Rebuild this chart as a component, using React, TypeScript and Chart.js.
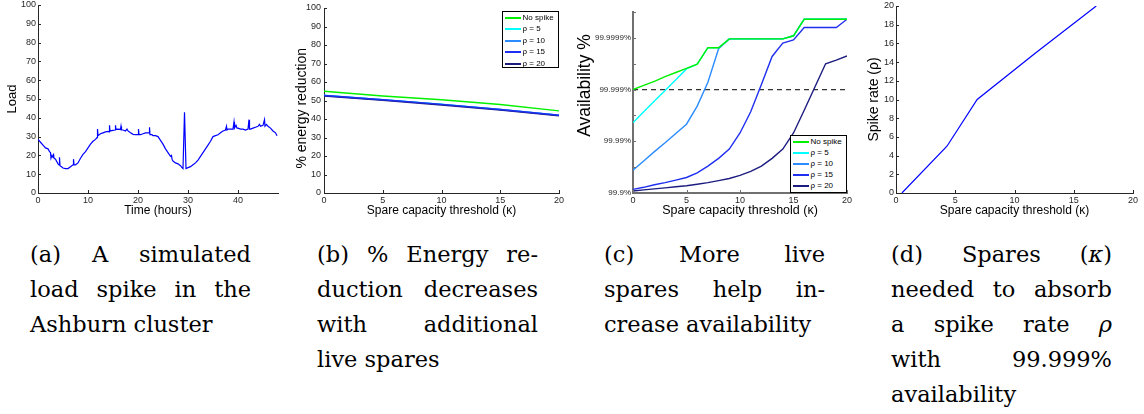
import React, { useEffect, useRef } from 'react';
import { Chart, registerables } from 'chart.js';
Chart.register(...registerables);

const SANS = '"Liberation Sans", Arial, Helvetica, sans-serif';
const SERIF = '"DejaVu Serif", serif';

// ---------- (a) simulated load spike ----------
const loadHours = [
  0, 0.5, 1, 1.5, 2, 2.3, 2.5, 2.6, 2.8, 3.0, 3.1, 3.2, 3.5, 4.0, 4.2, 4.3, 4.4, 4.7, 5, 5.5, 6, 6.5, 7, 7.1, 7.2, 7.5,
  8, 8.5, 9, 9.5, 10, 10.5, 11, 11.5, 11.8, 11.9, 12.0, 12.5, 13, 13.5, 14, 14.2, 14.3, 14.4, 15, 15.4, 15.5, 15.6,
  16, 16.5, 16.6, 16.7, 17, 17.5, 17.8, 18, 18.5, 19, 19.5, 20, 20.1, 20.2, 20.5, 21, 21.5, 22, 22.2, 22.3, 22.4,
  22.8, 23, 23.5, 24, 24.5, 25, 25.5, 26, 26.5, 26.7, 26.8, 27, 27.5, 28, 28.5, 28.8, 29, 29.3, 29.6, 30, 30.5, 31,
  31.5, 32, 32.5, 33, 33.5, 34, 34.5, 35, 35.5, 36, 36.5, 37, 37.5, 37.7, 37.8, 38, 38.5, 39, 39.2, 39.3, 39.6, 39.8,
  40, 40.5, 41, 41.5, 42, 42.2, 42.3, 42.5, 43, 43.5, 44, 44.3, 44.5, 45, 45.3, 45.4, 45.7, 46, 46.5, 47, 47.5, 47.8,
];
const loadValues = [
  28.5, 27, 25.5, 24, 23.5, 22, 21.5, 18.5, 20, 19, 21, 18.5, 18, 15.5, 15, 19, 14.5, 14, 13.3, 13, 13, 14, 15, 18, 15, 15,
  16, 18.5, 20.5, 22, 24, 26, 27.5, 28.5, 29.5, 34, 30.5, 31.5, 32, 32.5, 32.8, 32.5, 36, 33, 33.3, 33.5, 36, 33.8,
  34, 33.8, 35.5, 33.5, 33.5, 33, 34, 33, 32, 31.2, 31, 31, 34, 31, 31, 31.5, 32, 32, 32, 35, 31,
  31, 30.5, 30.5, 30, 28, 26, 23.5, 21.5, 19.5, 20, 18, 17, 16, 15.5, 14.5, 13.5, 13, 43, 13, 13.5, 14, 15,
  16, 17.5, 19.5, 21.5, 23.5, 25.5, 27.5, 30, 30.5, 31, 32, 33, 33.5, 35.5, 33.5, 34, 34, 34, 37.8, 34.5, 36, 34.5,
  34.5, 34, 34, 33.5, 34, 39, 34, 34, 34.5, 35, 35.5, 36.5, 35.5, 36, 39, 35.5, 36.5, 35.5, 34.5, 33, 32, 30.5,
];

// ---------- shared series ----------
const seriesLabels = ['No spike', 'ρ = 5', 'ρ = 10', 'ρ = 15', 'ρ = 20'];
const seriesColors = ['#00f000', '#00ffff', '#2b8cff', '#1f2fef', '#1c1c80'];

// ---------- (b) energy reduction ----------
const energyKappa = [0, 5, 10, 15, 20];
const energyNoSpike = [55.0, 52.4, 50.4, 47.8, 44.4];
const energyRho5 = [52.8, 50.5, 48.0, 45.2, 42.1];
const energyRho10 = [52.7, 50.4, 47.9, 45.1, 42.0];
const energyRho15 = [52.7, 50.4, 47.9, 45.1, 42.0];
const energyRho20 = [52.4, 50.1, 47.6, 44.8, 41.7];

// ---------- (c) availability (number of nines) ----------
const availKappa = [0, 1, 2, 3, 4, 5, 6, 7, 8, 9, 10, 11, 12, 13, 14, 15, 16, 17, 18, 19, 20];
const availNoSpike = [5.0, 5.08, 5.16, 5.25, 5.33, 5.41, 5.49, 5.81, 5.81, 5.98, 5.98, 5.98, 5.98, 5.98, 5.98, 6.04, 6.36, 6.36, 6.36, 6.36, 6.36];
const availRho5 = [4.36, 4.57, 4.78, 4.98, 5.19, 5.4, 5.49, 5.81, 5.81, 5.98, 5.98, 5.98, 5.98, 5.98, 5.98, 6.04, 6.36, 6.36, 6.36, 6.36, 6.36];
const availRho10 = [3.44, 3.62, 3.8, 3.97, 4.15, 4.33, 4.68, 5.14, 5.79, 5.98, 5.98, 5.98, 5.98, 5.98, 5.98, 6.04, 6.36, 6.36, 6.36, 6.36, 6.36];
const availRho15 = [3.07, 3.11, 3.16, 3.2, 3.25, 3.3, 3.39, 3.52, 3.67, 3.85, 4.16, 4.57, 5.1, 5.64, 5.9, 5.96, 6.2, 6.2, 6.2, 6.2, 6.36];
const availRho20 = [3.04, 3.06, 3.08, 3.1, 3.12, 3.14, 3.17, 3.2, 3.24, 3.28, 3.34, 3.42, 3.52, 3.67, 3.85, 4.16, 4.6, 5.05, 5.5, 5.57, 5.65];
const availTarget = 5; // 99.999%
const availTargetKappa = [0, 20];

// ---------- (d) spares needed ----------
const spikeKappa = [0.5, 4.3, 6.85, 11.8, 16.9];
const spikeRho = [0, 5, 10, 15, 20];

const pts = (xs: number[], ys: number[]) => xs.map((x, i) => ({ x, y: ys[i] }));

const inwardTicks = {
  id: 'inwardTicks',
  afterDatasetsDraw(chart: any, _args: any, opts: any) {
    const { ctx, chartArea } = chart;
    const len = opts.len ?? 3;
    ctx.save();
    ctx.strokeStyle = opts.color ?? '#262626';
    ctx.lineWidth = 1;
    ctx.beginPath();
    const xs = chart.scales.x;
    const ys = chart.scales.y;
    xs.ticks.forEach((t: any) => {
      const px = Math.round(xs.getPixelForValue(t.value)) + 0.5;
      ctx.moveTo(px, chartArea.bottom);
      ctx.lineTo(px, chartArea.bottom - len);
    });
    ys.ticks.forEach((t: any) => {
      const py = Math.round(ys.getPixelForValue(t.value)) + 0.5;
      ctx.moveTo(chartArea.left, py);
      ctx.lineTo(chartArea.left + len, py);
    });
    ctx.stroke();
    ctx.restore();
  },
};

type Spec = {
  plotL: number; plotR: number; plotT: number; plotB: number;
  yw: number; xh: number;
  yTitle: string; yTitleSize: number; yTitleCenter: number;
  xTitle: string; xTitleSize: number;
  xMin: number; xMax: number; xStep: number; xTickSize: number;
  yMin: number; yMax: number; yStep: number; yTickSize: number;
  yTickPad: number;
  yFormat?: (v: number) => string;
  axisColor: string; axisWidth: number;
  datasets: any[];
};

const PAD = { top: 15, right: 14, bottom: 10, left: 0 };

function frame(s: Spec) {
  const left = s.plotL - s.yw - PAD.left;
  const top = s.plotT - PAD.top;
  const width = s.plotR + PAD.right - left;
  const height = s.plotB + s.xh + PAD.bottom - top;
  return { left, top, width, height };
}

function PlotChart({ spec }: { spec: Spec }) {
  const ref = useRef<HTMLCanvasElement | null>(null);
  const f = frame(spec);
  useEffect(() => {
    if (!ref.current) return;
    const yLH = spec.yTitleSize * 1.2;
    const chart = new Chart(ref.current, {
      type: 'line',
      data: { datasets: spec.datasets },
      options: {
        animation: false,
        responsive: false,
        maintainAspectRatio: false,
        layout: { padding: PAD },
        plugins: {
          legend: { display: false },
          tooltip: { enabled: false },
          inwardTicks: { color: spec.axisColor, len: 3 },
        } as any,
        elements: { point: { radius: 0 }, line: { tension: 0 } },
        scales: {
          x: {
            type: 'linear',
            min: spec.xMin,
            max: spec.xMax,
            grid: { display: true, drawOnChartArea: false, drawTicks: false },
            border: { display: true, color: spec.axisColor, width: spec.axisWidth },
            ticks: {
              stepSize: spec.xStep,
              includeBounds: false,
              autoSkip: false,
              maxRotation: 0,
              padding: 2,
              color: '#262626',
              font: { family: SANS, size: spec.xTickSize },
            },
            title: {
              display: true,
              text: spec.xTitle,
              color: '#000',
              font: { family: SANS, size: spec.xTitleSize },
              padding: { top: 0, bottom: 0 },
            },
            afterFit: (scale: any) => { scale.height = spec.xh; },
          },
          y: {
            type: 'linear',
            min: spec.yMin,
            max: spec.yMax,
            grid: { display: true, drawOnChartArea: false, drawTicks: false },
            border: { display: true, color: spec.axisColor, width: spec.axisWidth },
            ticks: {
              stepSize: spec.yStep,
              autoSkip: false,
              padding: spec.yTickPad,
              color: '#262626',
              font: { family: SANS, size: spec.yTickSize },
              callback: (v: any) => (spec.yFormat ? spec.yFormat(Number(v)) : String(v)),
            },
            title: {
              display: true,
              text: spec.yTitle,
              color: '#000',
              font: { family: SANS, size: spec.yTitleSize },
              padding: { top: spec.yTitleCenter - f.left - yLH / 2, bottom: 0 },
            },
            afterFit: (scale: any) => { scale.width = spec.yw; },
          },
        },
      } as any,
      plugins: [inwardTicks as any],
    });
    return () => chart.destroy();
  }, []);
  return (
    <canvas
      ref={ref}
      width={f.width}
      height={f.height}
      style={{ position: 'absolute', left: f.left, top: f.top, width: f.width, height: f.height }}
    />
  );
}

const line = (label: string, data: any[], color: string, width = 1.3, extra: any = {}) => ({
  label, data, borderColor: color, backgroundColor: color, borderWidth: width, pointRadius: 0, fill: false, ...extra,
});

const specA: Spec = {
  plotL: 38, plotR: 278, plotT: 5, plotB: 193, yw: 38, xh: 25,
  yTitle: 'Load', yTitleSize: 13, yTitleCenter: 12.5,
  xTitle: 'Time (hours)', xTitleSize: 12,
  xMin: 0, xMax: 48, xStep: 10, xTickSize: 9,
  yMin: 0, yMax: 100, yStep: 10, yTickSize: 9, yTickPad: 2,
  axisColor: '#262626', axisWidth: 1,
  datasets: [line('Load', pts(loadHours, loadValues), '#0000ff', 1.2)],
};

const energySeries = [energyNoSpike, energyRho5, energyRho10, energyRho15, energyRho20];
const energyOrder = [0, 4, 3, 1, 2];
const specB: Spec = {
  plotL: 324, plotR: 559, plotT: 7.5, plotB: 193, yw: 40, xh: 25,
  yTitle: '% energy reduction    ', yTitleSize: 14, yTitleCenter: 302,
  xTitle: 'Spare capacity threshold (κ)', xTitleSize: 12,
  xMin: 0, xMax: 20, xStep: 5, xTickSize: 9,
  yMin: 0, yMax: 100, yStep: 10, yTickSize: 9, yTickPad: 3,
  axisColor: '#262626', axisWidth: 1,
  datasets: energySeries.map((s, i) => line(seriesLabels[i], pts(energyKappa, s), seriesColors[i], 1.4, { order: energyOrder[i] })),
};

const availSeries = [availNoSpike, availRho5, availRho10, availRho15, availRho20];
const specC: Spec = {
  plotL: 633, plotR: 847, plotT: 12, plotB: 193, yw: 60, xh: 25,
  yTitle: '       Availability %', yTitleSize: 17.5, yTitleCenter: 585,
  xTitle: 'Spare capacity threshold (κ)', xTitleSize: 12.5,
  xMin: 0, xMax: 20, xStep: 5, xTickSize: 9,
  yMin: 3, yMax: 6.5, yStep: 0.5, yTickSize: 8, yTickPad: 2,
  yFormat: (v: number) => (Number.isInteger(v) ? '99.' + '9'.repeat(v - 2) + '%' : ''),
  axisColor: '#707070', axisWidth: 2,
  datasets: [
    ...availSeries.map((s, i) => line(seriesLabels[i], pts(availKappa, s), seriesColors[i], 1.4)),
    line('target', pts(availTargetKappa, availTargetKappa.map(() => availTarget)), '#333333', 1.3, { borderDash: [5, 4] }),
  ],
};

const specD: Spec = {
  plotL: 896, plotR: 1133, plotT: 6, plotB: 193, yw: 40, xh: 25,
  yTitle: 'Spike rate (ρ)', yTitleSize: 14, yTitleCenter: 874,
  xTitle: 'Spare capacity threshold (κ)', xTitleSize: 12,
  xMin: 0, xMax: 20, xStep: 5, xTickSize: 9,
  yMin: 0, yMax: 20, yStep: 2, yTickSize: 9, yTickPad: 2,
  axisColor: '#262626', axisWidth: 1,
  datasets: [line('Spike rate', pts(spikeKappa, spikeRho), '#0000ff', 1.2)],
};

function Legend({ left, top, width, height, rowH, padTop }: any) {
  return (
    <div style={{ position: 'absolute', left, top, width, height, border: '1.5px solid #000', background: '#fff', boxSizing: 'border-box' }}>
      {seriesLabels.map((lab, i) => (
        <div key={i} style={{ position: 'absolute', left: 1.5, top: padTop + i * rowH, height: rowH, display: 'flex', alignItems: 'center', whiteSpace: 'nowrap' }}>
          <span style={{ display: 'inline-block', width: 16, height: 2, background: seriesColors[i] }} />
          <span style={{ marginLeft: 2, font: `8px ${SANS}`, color: '#000', lineHeight: '10px' }}>{lab}</span>
        </div>
      ))}
    </div>
  );
}

function Caption({ left, lines }: { left: number; lines: React.ReactNode[] }) {
  return (
    <div style={{ position: 'absolute', left, top: 237, width: 221, fontFamily: SERIF, fontSize: 22.5, lineHeight: '35px', color: '#000' }}>
      {lines.map((l, i) => (
        <div key={i} style={{ textAlign: i < lines.length - 1 ? 'justify' : 'left', textAlignLast: i < lines.length - 1 ? 'justify' : 'left' } as any}>{l}</div>
      ))}
    </div>
  );
}

export default function App() {
  return (
    <div style={{ position: 'absolute', left: 0, top: 0, width: 1144, height: 414, background: '#fff', overflow: 'hidden' }}>
      <PlotChart spec={specA} />
      <PlotChart spec={specB} />
      <PlotChart spec={specC} />
      <PlotChart spec={specD} />
      <Legend left={502} top={11} width={57} height={57} rowH={11.5} padTop={0} />
      <Legend left={790} top={135} width={57} height={58} rowH={10.9} padTop={1} />
      <Caption left={30} lines={['(a) A simulated', 'load spike in the', 'Ashburn cluster']} />
      <Caption left={317} lines={['(b) % Energy re-', 'duction decreases', 'with additional', 'live spares']} />
      <Caption left={604} lines={['(c) More live', 'spares help in-', 'crease availability']} />
      <Caption
        left={891}
        lines={[
          <span key="d1">(d) Spares (<i>κ</i>)</span>,
          'needed to absorb',
          <span key="d3">a spike rate <i>ρ</i></span>,
          'with 99.999%',
          'availability',
        ]}
      />
    </div>
  );
}
